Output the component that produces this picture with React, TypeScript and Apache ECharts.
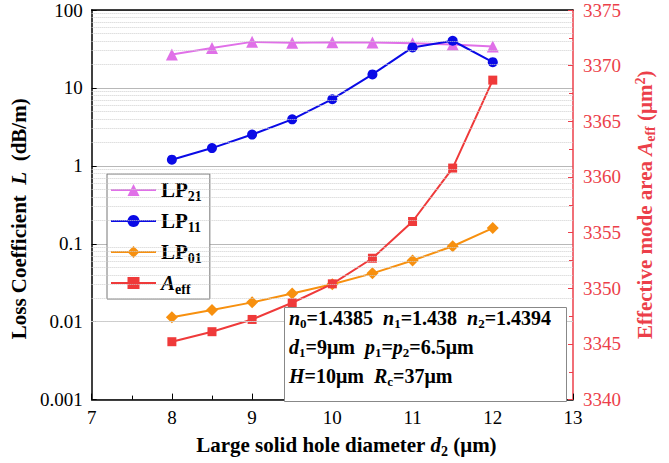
import React, { useEffect, useRef } from 'react';
import * as echarts from 'echarts';

const diameters = [8, 8.5, 9, 9.5, 10, 10.5, 11, 11.5, 12];
const lossLP21 = [26.8, 32.5, 39, 38, 38.5, 38.3, 37.5, 36, 34];
const lossLP11 = [1.2, 1.69, 2.52, 3.95, 7.16, 14.9, 33.1, 40.3, 21.4];
const lossLP01 = [0.0114, 0.0141, 0.0177, 0.023, 0.0302, 0.0417, 0.061, 0.093, 0.159];
const aeffValues = [3345.2, 3346.1, 3347.2, 3348.7, 3350.4, 3352.7, 3356.0, 3360.8, 3368.7];
const lossTickLabels = ['0.001', '0.01', '0.1', '1', '10', '100'];
const decadeStarts = [0.001, 0.01, 0.1, 1, 10];
const minorMultipliers = [2, 3, 4, 5, 6, 7, 8, 9];
const seriesNames = ['LP21', 'LP11', 'LP01', 'Aeff'];

const FONT = 'Liberation Serif';
const RED = '#ec3f4a';

function pair(ys: number[]) {
  return diameters.map((x, i) => [x, ys[i]]);
}

export default function App() {
  const ref = useRef<HTMLDivElement>(null);
  useEffect(() => {
    document.body.style.margin = '0';
    if (!ref.current) return;
    const chart = echarts.init(ref.current, null, { renderer: 'svg' });
    const minorLines: number[] = [];
    decadeStarts.forEach((d) => minorMultipliers.forEach((m) => minorLines.push(d * m)));

    const richCommon = (size: number, lh: number, color: string) => {
      const ss = Math.round(size * 0.66);
      return {
        b: { fontFamily: FONT, fontSize: size, fontWeight: 'bold', color, lineHeight: lh },
        i: { fontFamily: FONT, fontSize: size, fontWeight: 'bold', fontStyle: 'italic', color, lineHeight: lh },
        s: { fontFamily: FONT, fontSize: ss, fontWeight: 'bold', color, lineHeight: ss, padding: [Math.round(size * 0.55), 0, 0, 0] },
        sup: { fontFamily: FONT, fontSize: ss, fontWeight: 'bold', color, lineHeight: ss, padding: [0, 0, Math.round(size * 0.45), 0] },
      };
    };
    const tickRich = (color: string) => ({
      t: { fontFamily: FONT, fontSize: 19, fontWeight: 'normal', color, lineHeight: 20 },
    });

    const mk = (name: string, data: number[], color: string, symbol: string, size: number, yAxisIndex = 0) => ({
      name,
      type: 'line',
      yAxisIndex,
      data: pair(data),
      symbol,
      symbolSize: size,
      lineStyle: { color, width: 2 },
      itemStyle: { color },
      z: 3,
    });

    chart.setOption({
      animation: false,
      textStyle: { fontFamily: FONT },
      grid: { left: 86, right: 96, top: 10, bottom: 60 },
      xAxis: [
        {
          type: 'value',
          min: 7,
          max: 13,
          interval: 1,
          name: '{b|Large solid hole diameter }{i|d}{s|2}{b| (μm)}',
          nameLocation: 'middle',
          nameGap: 33,
          nameTextStyle: { rich: richCommon(21, 24, '#000'), padding: [0, 0, 0, 28] },
          axisLine: { lineStyle: { color: '#000', width: 1.5 } },
          axisTick: { inside: true, length: 6, lineStyle: { color: '#000' } },
          minorTick: { show: true, splitNumber: 2, length: 4, lineStyle: { color: '#000' } },
          axisLabel: { color: '#000', margin: 8, rich: tickRich('#000'), formatter: (v: number) => '{t|' + v + '}' },
          splitLine: { show: false },
        },
        {
          type: 'value',
          min: 7,
          max: 13,
          position: 'top',
          axisLine: { show: true, lineStyle: { color: '#000', width: 1.5 } },
          axisTick: { show: false },
          axisLabel: { show: false },
          splitLine: { show: false },
        },
      ],
      yAxis: [
        {
          type: 'log',
          logBase: 10,
          min: 0.001,
          max: 100,
          name: '{b|Loss Coefficient  }{i|L}{b|  (dB/m)}',
          nameLocation: 'middle',
          nameGap: 43,
          nameRotate: 90,
          nameTextStyle: { rich: richCommon(21, 24, '#000'), padding: [0, 28, 0, 0] },
          axisLine: { show: true, lineStyle: { color: '#000', width: 1.5 } },
          axisTick: { show: true, inside: true, length: 5, lineStyle: { color: '#000' } },
          axisLabel: {
            color: '#000',
            margin: 9,
            rich: tickRich('#000'),
            formatter: (v: number) => {
              const e = Math.round(Math.log10(v)) + 3;
              return '{t|' + (lossTickLabels[e] ?? String(v)) + '}';
            },
          },
          splitLine: { show: true, lineStyle: { color: '#b8b8b8', width: 1 } },
        },
        {
          type: 'value',
          min: 3340,
          max: 3375,
          interval: 5,
          position: 'right',
          name: '{b|Effective mode area }{i|A}{s|eff}{b| (μm}{sup|2}{b|)}',
          nameLocation: 'middle',
          nameGap: 47,
          nameRotate: 90,
          nameTextStyle: { rich: richCommon(21, 24, RED) },
          axisLine: { show: true, lineStyle: { color: RED, width: 1.5 } },
          axisTick: { show: true, inside: true, length: 5, lineStyle: { color: RED } },
          minorTick: { show: true, splitNumber: 2, length: 4, lineStyle: { color: RED } },
          axisLabel: { color: RED, margin: 10, rich: tickRich(RED), formatter: (v: number) => '{t|' + v + '}' },
          splitLine: { show: false },
        },
      ],
      legend: {
        data: seriesNames,
        orient: 'vertical',
        left: 107,
        top: 174,
        itemWidth: 45,
        itemHeight: 15,
        itemGap: 5,
        padding: [3, 8, 3, 3],
        backgroundColor: '#fff',
        borderColor: '#777',
        borderWidth: 1,
        formatter: (name: string) =>
          name === 'Aeff' ? '{i|A}{s|eff}' : '{b|LP}{s|' + name.slice(2) + '}',
        textStyle: { fontFamily: FONT, fontSize: 21, fontWeight: 'bold', color: '#000', rich: richCommon(21, 23, '#000') },
      },
      graphic: [
        {
          type: 'rect',
          left: 284,
          top: 307,
          z: 100,
          shape: { x: 0, y: 0, width: 282, height: 94 },
          style: { fill: '#fff', stroke: '#888', lineWidth: 1 },
        },
        {
          type: 'text',
          left: 289,
          top: 306,
          z: 101,
          style: {
            text: [
              '{i|n}{s|0}{b|=1.4385  }{i|n}{s|1}{b|=1.438  }{i|n}{s|2}{b|=1.4394}',
              '{i|d}{s|1}{b|=9μm  }{i|p}{s|1}{b|=}{i|p}{s|2}{b|=6.5μm}',
              '{i|H}{b|=10μm  }{i|R}{s|c}{b|=37μm}',
            ].join('\n'),
            rich: richCommon(20, 29, '#000'),
            fill: '#000',
            font: 'bold 20px ' + FONT,
          },
        },
      ],
      series: [
        {
          name: 'minor-grid',
          type: 'line',
          yAxisIndex: 0,
          data: [],
          z: 1,
          silent: true,
          markLine: {
            silent: true,
            symbol: ['none', 'none'],
            label: { show: false },
            lineStyle: { color: '#cfcfcf', type: 'dotted', width: 1 },
            data: minorLines.map((v) => ({ yAxis: v })),
          },
        },
        mk('LP21', lossLP21, '#e070e8', 'triangle', 12),
        mk('LP11', lossLP11, '#0a0ae6', 'circle', 10),
        mk('LP01', lossLP01, '#f7900f', 'diamond', 12),
        mk('Aeff', aeffValues, '#ef3a3a', 'rect', 9, 1),
      ],
    });
    return () => chart.dispose();
  }, []);
  return <div ref={ref} style={{ width: 669, height: 463 }} />;
}
